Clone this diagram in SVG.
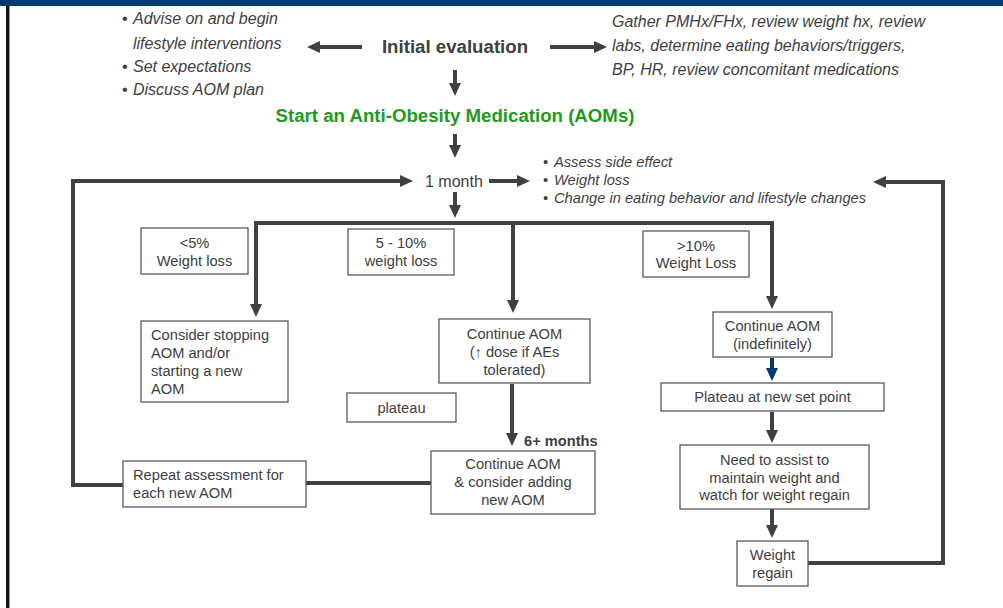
<svg xmlns="http://www.w3.org/2000/svg" width="1003" height="608" viewBox="0 0 1003 608">
  <defs>
    <marker id="head" markerUnits="userSpaceOnUse" markerWidth="13" markerHeight="12" refX="7" refY="6" orient="auto">
      <path d="M0,0 L13,6 L0,12 z" fill="#404040"/>
    </marker>
    <marker id="headBlue" markerUnits="userSpaceOnUse" markerWidth="13" markerHeight="12" refX="7" refY="6" orient="auto">
      <path d="M0,0 L13,6 L0,12 z" fill="#003a70"/>
    </marker>
    <style>
      .t { font-family: "Liberation Sans", Arial, sans-serif; fill: #404040; }
      .box { fill: #ffffff; stroke: #5a5a5a; stroke-width: 1.3; }
      .bx { font-size: 14.67px; }
      .c { text-anchor: middle; }
      .it { font-style: italic; }
      .link { fill: none; stroke: #404040; stroke-width: 4; stroke-linejoin: miter; }
      .arr { fill: none; stroke: #404040; stroke-width: 4; marker-end: url(#head); }
    </style>
  </defs>

  <!-- frame -->
  <rect x="0" y="0" width="1003" height="6" fill="#003a70"/>
  <rect x="6" y="6" width="3" height="602" fill="#111111"/>
  <rect x="9" y="6" width="1" height="602" fill="#9a9a9a"/>

  <!-- connectors -->
  <g id="connectors">
    <line class="arr" x1="362" y1="47" x2="313" y2="47"/>
    <line class="arr" x1="550" y1="47" x2="601" y2="47"/>
    <line class="arr" x1="455" y1="70" x2="455" y2="90"/>
    <line class="arr" x1="455" y1="134" x2="455" y2="152"/>
    <line class="arr" x1="489" y1="181" x2="524" y2="181"/>
    <line class="arr" x1="455" y1="192" x2="455" y2="212"/>
    <path class="link" d="M256,311 L256,223 L772,223 L772,303"/>
    <line class="arr" x1="256" y1="300" x2="256" y2="311"/>
    <line class="arr" x1="772" y1="290" x2="772" y2="303"/>
    <line class="arr" x1="513" y1="223" x2="513" y2="307"/>
    <line class="arr" x1="512" y1="384" x2="512" y2="440"/>
    <line class="link" x1="306" y1="483" x2="431" y2="483"/>
    <path class="arr" d="M123,485 L73,485 L73,181 L407,181"/>
    <line x1="772" y1="358" x2="772" y2="375" stroke="#003a70" stroke-width="4" marker-end="url(#headBlue)"/>
    <line class="arr" x1="772" y1="412" x2="772" y2="437"/>
    <line class="arr" x1="772" y1="509" x2="772" y2="532"/>
    <path class="arr" d="M808,563 L943,563 L943,182 L879,182"/>
  </g>

  <!-- header texts -->
  <g id="lifestyle-notes" class="t it" font-size="16">
    <text x="122" y="24" font-style="normal">•</text>
    <text x="133" y="24">Advise on and begin</text>
    <text x="133" y="49">lifestyle interventions</text>
    <text x="122" y="72" font-style="normal">•</text>
    <text x="133" y="72">Set expectations</text>
    <text x="122" y="95" font-style="normal">•</text>
    <text x="133" y="95">Discuss AOM plan</text>
  </g>
  <g id="initial-evaluation">
    <text class="t c" x="455" y="53" font-size="18.67" font-weight="bold">Initial evaluation</text>
  </g>
  <g id="workup-notes" class="t it" font-size="16">
    <text x="612" y="27">Gather PMHx/FHx, review weight hx, review</text>
    <text x="612" y="51">labs, determine eating behaviors/triggers,</text>
    <text x="612" y="75">BP, HR, review concomitant medications</text>
  </g>
  <g id="start-aom">
    <text class="c" x="455" y="122" font-family="Liberation Sans, Arial, sans-serif" font-size="18.67" font-weight="bold" fill="#1f9a1f">Start an Anti-Obesity Medication (AOMs)</text>
  </g>
  <g id="one-month">
    <text class="t" x="425" y="187" font-size="16">1 month</text>
  </g>
  <g id="assessment-notes" class="t it bx">
    <text x="543" y="167" font-style="normal">•</text>
    <text x="554" y="167">Assess side effect</text>
    <text x="543" y="185" font-style="normal">•</text>
    <text x="554" y="185">Weight loss</text>
    <text x="543" y="203" font-style="normal">•</text>
    <text x="554" y="203">Change in eating behavior and lifestyle changes</text>
  </g>

  <!-- outcome boxes -->
  <g id="loss-under-5">
    <rect class="box" x="141" y="228" width="107" height="46"/>
    <text class="t bx c" x="194.5" y="248">&lt;5%</text>
    <text class="t bx c" x="194.5" y="266">Weight loss</text>
  </g>
  <g id="loss-5-10">
    <rect class="box" x="348" y="229" width="106" height="46"/>
    <text class="t bx c" x="401" y="248">5 - 10%</text>
    <text class="t bx c" x="401" y="266">weight loss</text>
  </g>
  <g id="loss-over-10">
    <rect class="box" x="643" y="231" width="106" height="46"/>
    <text class="t bx c" x="696" y="251">&gt;10%</text>
    <text class="t bx c" x="696" y="268">Weight Loss</text>
  </g>

  <g id="consider-stopping">
    <rect class="box" x="141" y="321" width="147" height="81"/>
    <text class="t bx" x="151" y="340">Consider stopping</text>
    <text class="t bx" x="151" y="358">AOM and/or</text>
    <text class="t bx" x="151" y="376">starting a new</text>
    <text class="t bx" x="151" y="394">AOM</text>
  </g>
  <g id="continue-dose">
    <rect class="box" x="439" y="319" width="151" height="64"/>
    <text class="t bx c" x="514.5" y="339">Continue AOM</text>
    <text class="t bx c" x="514.5" y="357">(↑ dose if AEs</text>
    <text class="t bx c" x="514.5" y="375">tolerated)</text>
  </g>
  <g id="plateau">
    <rect class="box" x="347" y="393" width="109" height="29"/>
    <text class="t bx c" x="401.5" y="413">plateau</text>
  </g>
  <g id="six-months">
    <text class="t bx" x="524" y="446" font-weight="bold">6+ months</text>
  </g>
  <g id="continue-add">
    <rect class="box" x="431" y="451" width="164" height="63"/>
    <text class="t bx c" x="513" y="469">Continue AOM</text>
    <text class="t bx c" x="513" y="487">&amp; consider adding</text>
    <text class="t bx c" x="513" y="505">new AOM</text>
  </g>
  <g id="repeat-assessment">
    <rect class="box" x="123" y="461" width="183" height="46"/>
    <text class="t bx" x="133" y="480">Repeat assessment for</text>
    <text class="t bx" x="133" y="498">each new AOM</text>
  </g>

  <g id="continue-indefinitely">
    <rect class="box" x="713" y="312" width="119" height="45"/>
    <text class="t bx c" x="772.5" y="331">Continue AOM</text>
    <text class="t bx c" x="772.5" y="349">(indefinitely)</text>
  </g>
  <g id="set-point">
    <rect class="box" x="661" y="383" width="223" height="28"/>
    <text class="t bx c" x="772.5" y="402">Plateau at new set point</text>
  </g>
  <g id="maintain">
    <rect class="box" x="680" y="445" width="189" height="64"/>
    <text class="t bx c" x="774.5" y="465">Need to assist to</text>
    <text class="t bx c" x="774.5" y="483">maintain weight and</text>
    <text class="t bx c" x="774.5" y="500">watch for weight regain</text>
  </g>
  <g id="weight-regain">
    <rect class="box" x="737" y="541" width="71" height="45"/>
    <text class="t bx c" x="772.5" y="560">Weight</text>
    <text class="t bx c" x="772.5" y="578">regain</text>
  </g>
</svg>
